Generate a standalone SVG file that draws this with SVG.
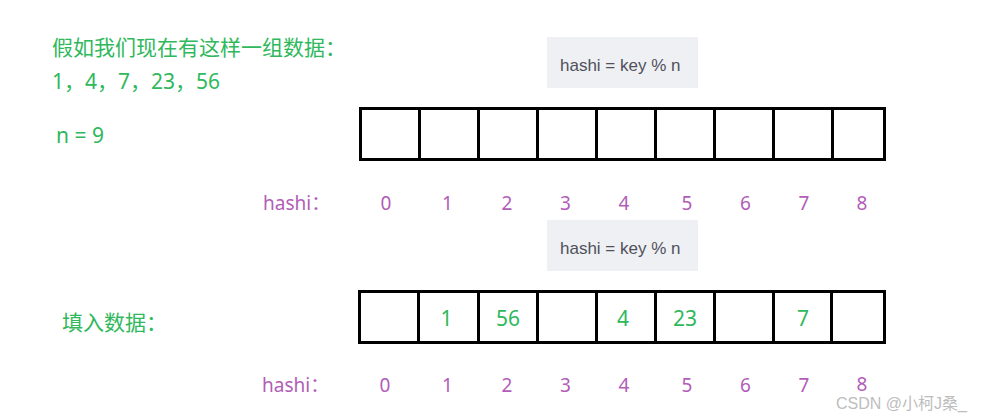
<svg xmlns="http://www.w3.org/2000/svg" width="985" height="419" viewBox="0 0 985 419">
<style>
.g{fill:#2fb85c;font-family:"Noto Sans","Noto Sans CJK SC",sans-serif}
.p{fill:#b25db8;font-family:"Noto Sans","Noto Sans CJK SC",sans-serif;font-size:19px;text-anchor:middle}
.pl{fill:#b25db8;font-family:"Noto Sans","Noto Sans CJK SC",sans-serif;font-size:19px}
.cell{fill:#fff;stroke:#000;stroke-width:3}
.fbox{fill:#eff0f4}
.ft{fill:#50505c;font-family:"Liberation Sans",Arial,sans-serif;font-size:17px}
.v{fill:#2fb85c;font-family:"Noto Sans","Noto Sans CJK SC",sans-serif;font-size:21px;text-anchor:middle}
.wm{fill:#bdbdbd;font-family:"Liberation Sans","Noto Sans CJK SC",sans-serif;font-size:16px}
</style>
<rect width="985" height="419" fill="#fff"/>
<g id="intro">
<text class="g" x="52" y="55" font-size="21">假如我们现在有这样一组数据：</text>
<text class="g" x="52" y="89" font-size="21">1，4，7，23，56</text>
<text class="g" x="56" y="143" font-size="21">n = 9</text>
</g>
<g id="formula-top">
<rect class="fbox" x="547" y="37" width="151" height="51"/>
<text class="ft" x="560" y="71">hashi = key % n</text>
</g>
<g id="array-top">
<rect id="t0" class="cell" x="360.5" y="108.5" width="59" height="51"/>
<rect id="t1" class="cell" x="419.5" y="108.5" width="59" height="51"/>
<rect id="t2" class="cell" x="478.5" y="108.5" width="59" height="51"/>
<rect id="t3" class="cell" x="537.5" y="108.5" width="59" height="51"/>
<rect id="t4" class="cell" x="596.5" y="108.5" width="59" height="51"/>
<rect id="t5" class="cell" x="655.5" y="108.5" width="59" height="51"/>
<rect id="t6" class="cell" x="714.5" y="108.5" width="59" height="51"/>
<rect id="t7" class="cell" x="773.5" y="108.5" width="59" height="51"/>
<rect id="t8" class="cell" x="832.5" y="108.5" width="52" height="51"/>
</g>
<g id="index-top">
<text class="pl" x="263" y="210">hashi：</text>
<text class="p" x="386" y="210">0</text>
<text class="p" x="447.5" y="210">1</text>
<text class="p" x="507" y="210">2</text>
<text class="p" x="565.5" y="210">3</text>
<text class="p" x="624" y="210">4</text>
<text class="p" x="687" y="210">5</text>
<text class="p" x="745.5" y="210">6</text>
<text class="p" x="804" y="210">7</text>
<text class="p" x="862" y="210">8</text>
</g>
<g id="formula-bottom">
<rect class="fbox" x="547" y="220" width="151" height="51"/>
<text class="ft" x="560" y="254">hashi = key % n</text>
</g>
<g id="fill-label">
<text class="g" x="62" y="330" font-size="21">填入数据：</text>
</g>
<g id="array-bottom">
<g id="b0"><rect class="cell" x="359.5" y="291.5" width="59" height="51"/></g>
<g id="b1"><rect class="cell" x="418.5" y="291.5" width="60" height="51"/><text class="v" x="446.5" y="326">1</text></g>
<g id="b2"><rect class="cell" x="478.5" y="291.5" width="59" height="51"/><text class="v" x="508" y="326">56</text></g>
<g id="b3"><rect class="cell" x="537.5" y="291.5" width="59" height="51"/></g>
<g id="b4"><rect class="cell" x="596.5" y="291.5" width="59" height="51"/><text class="v" x="623" y="326">4</text></g>
<g id="b5"><rect class="cell" x="655.5" y="291.5" width="59" height="51"/><text class="v" x="685" y="326">23</text></g>
<g id="b6"><rect class="cell" x="714.5" y="291.5" width="59" height="51"/></g>
<g id="b7"><rect class="cell" x="773.5" y="291.5" width="58" height="51"/><text class="v" x="803" y="326">7</text></g>
<g id="b8"><rect class="cell" x="831.5" y="291.5" width="53" height="51"/></g>
</g>
<g id="index-bottom">
<text class="pl" x="262" y="392">hashi：</text>
<text class="p" x="385" y="392">0</text>
<text class="p" x="447.5" y="392">1</text>
<text class="p" x="507" y="392">2</text>
<text class="p" x="565.5" y="392">3</text>
<text class="p" x="624" y="392">4</text>
<text class="p" x="687" y="392">5</text>
<text class="p" x="745.5" y="392">6</text>
<text class="p" x="804" y="392">7</text>
<text class="p" x="862" y="391">8</text>
</g>
<g id="connectors"/>
<text class="wm" x="836" y="409">CSDN @小柯J桑_</text>
</svg>
